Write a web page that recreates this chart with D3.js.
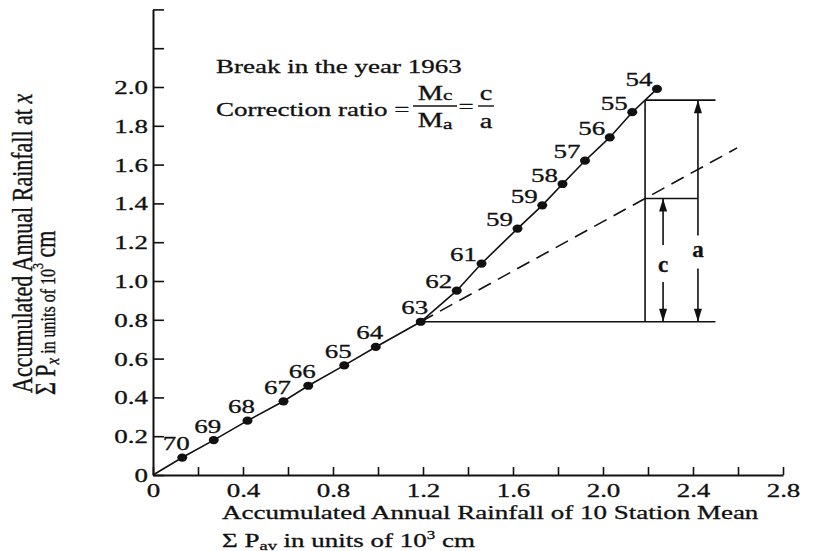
<!DOCTYPE html>
<html><head><meta charset="utf-8">
<script src="https://cdn.jsdelivr.net/npm/d3@7"></script>
<style>
html,body{margin:0;padding:0;background:#fff;}
svg{display:block;}
text{font-family:"Liberation Serif","Times New Roman",serif;fill:#111;stroke:#111;stroke-width:0.3px;}
</style></head><body>
<svg id="chart" width="813" height="551"></svg>
<script>
// ---- data ----
const years  = ["70","69","68","67","66","65","64","63","62","61","59","59","58","57","56","55","54"];
const sumPav = [0.13,0.27,0.42,0.58,0.69,0.85,0.99,1.19,1.35,1.46,1.62,1.73,1.82,1.92,2.03,2.13,2.24];
const sumPx  = [0.09,0.18,0.28,0.38,0.46,0.565,0.66,0.79,0.95,1.09,1.27,1.39,1.50,1.62,1.74,1.87,1.99];
const breakYear = "63";
const xTickValues = [0,0.2,0.4,0.6,0.8,1.0,1.2,1.4,1.6,1.8,2.0,2.2,2.4,2.6,2.8];
const xTickLabels = ["0","","0.4","","0.8","","1.2","","1.6","","2.0","","2.4","","2.8"];
const yTickValues = [0,0.2,0.4,0.6,0.8,1.0,1.2,1.4,1.6,1.8,2.0,2.2,2.4];
const yTickLabels = ["0","0.2","0.4","0.6","0.8","1.0","1.2","1.4","1.6","1.8","2.0","",""];
// annotation geometry (data units)
const dashedEnd = [2.596, 1.686];
const breakBarX = 2.187;
const guideEndX = 2.5;
const arrowCX = 2.267, arrowAX = 2.422;
const gapC = [0.995, 1.185], gapA = [1.065, 1.234];
const labelC = 1.046, labelA = 1.124;

// ---- drawing ----
const SX = 1.42;
const svg = d3.select("#chart");
const x = d3.scaleLinear().domain([0, 2.8]).range([153, 783]);
const y = d3.scaleLinear().domain([0, 2.4]).range([475, 9.4]);
const ink = "#111";

// y axis
const gy = svg.append("g").attr("transform", "translate(153,0)")
  .call(d3.axisLeft(y).tickValues(yTickValues).tickFormat((d, i) => yTickLabels[i])
    .tickSizeInner(-11).tickSizeOuter(0));
gy.attr("font-family", null).attr("font-size", null);
gy.select(".domain").attr("stroke", ink).attr("stroke-width", 2);
gy.selectAll(".tick line").attr("stroke", ink).attr("stroke-width", 1.6);
gy.selectAll(".tick text").attr("x", null).attr("dy", null)
  .attr("transform", `translate(-5,6.5) scale(${SX},1)`).style("font-size", "19px");

// x axis
const gx = svg.append("g").attr("transform", "translate(0,475)")
  .call(d3.axisBottom(x).tickValues(xTickValues).tickFormat((d, i) => xTickLabels[i])
    .tickSizeInner(-8).tickSizeOuter(0));
gx.attr("font-family", null).attr("font-size", null);
gx.select(".domain").attr("stroke", ink).attr("stroke-width", 2);
gx.selectAll(".tick line").attr("stroke", ink).attr("stroke-width", 1.6);
gx.selectAll(".tick text").attr("y", null).attr("dy", null)
  .attr("transform", `translate(0,22) scale(${SX},1)`).style("font-size", "19px");

// points
const pts = years.map((yr, i) => ({yr, px: sumPav[i], py: sumPx[i]}));
const bi = years.indexOf(breakYear);
const line = d3.line().x(d => x(d.px)).y(d => y(d.py));
svg.append("path").datum([{px: 0, py: 0}, ...pts]).attr("d", line)
  .attr("fill", "none").attr("stroke", ink).attr("stroke-width", 1.6);

// dashed extension of the pre-break trend
const p0 = pts[bi];
svg.append("path").datum([p0, {px: dashedEnd[0], py: dashedEnd[1]}]).attr("d", line)
  .attr("fill", "none").attr("stroke", ink).attr("stroke-width", 1.6).attr("stroke-dasharray", "14,8");

svg.selectAll("ellipse.pt").data(pts).join("ellipse").attr("class", "pt")
  .attr("cx", d => x(d.px)).attr("cy", d => y(d.py)).attr("rx", 5).attr("ry", 4.1).attr("fill", ink);

svg.selectAll("g.lbl").data(pts).join("g").attr("class", "lbl")
  .attr("transform", (d, i) => i <= bi
      ? `translate(${x(d.px) - 6},${y(d.py) - 7.5}) scale(${SX},1)`
      : `translate(${x(d.px) - 18},${y(d.py) - 2.5}) scale(${SX},1)`)
  .append("text").attr("text-anchor", "middle").style("font-size", "19px").text(d => d.yr);

// construction lines
const interp = (a, b, xv) => a.py + (b.py - a.py) * (xv - a.px) / (b.px - a.px);
let k = pts.findIndex(p => p.px > breakBarX);
const topY = interp(pts[k - 1], pts[k], breakBarX);
const midY = interp(p0, {px: dashedEnd[0], py: dashedEnd[1]}, breakBarX);
const seg = (x1, y1, x2, y2) => svg.append("line")
  .attr("x1", x(x1)).attr("y1", y(y1)).attr("x2", x(x2)).attr("y2", y(y2))
  .attr("stroke", ink).attr("stroke-width", 1.6);
seg(p0.px, p0.py, guideEndX, p0.py);
seg(breakBarX, p0.py, breakBarX, topY);
seg(breakBarX, topY, guideEndX, topY);
seg(breakBarX, midY, arrowAX, midY);

function arrow(xv, yFrom, yTo) {
  seg(xv, yFrom, xv, yTo);
  const X = x(xv), Y = y(yTo), dir = Math.sign(y(yTo) - y(yFrom));
  svg.append("path").attr("d", `M${X},${Y} L${X - 4},${Y - dir * 13} L${X + 4},${Y - dir * 13} Z`).attr("fill", ink);
}
arrow(arrowCX, gapC[1], midY);
arrow(arrowCX, gapC[0], p0.py);
arrow(arrowAX, gapA[1], topY);
arrow(arrowAX, gapA[0], p0.py);
svg.append("text").attr("x", x(arrowCX)).attr("y", y(labelC)).attr("text-anchor", "middle")
  .style("font-size", "23px").style("font-weight", "bold").text("c");
svg.append("text").attr("x", x(arrowAX)).attr("y", y(labelA)).attr("text-anchor", "middle")
  .style("font-size", "23px").style("font-weight", "bold").text("a");

// text helpers
function stext(tx, ty, anchor, size) {
  return svg.append("g").attr("transform", `translate(${tx},${ty}) scale(${SX},1)`)
    .append("text").attr("text-anchor", anchor).style("font-size", size + "px");
}
stext(216, 73, "start", 19).text("Break in the year 1963");
stext(216, 116, "start", 19).text("Correction ratio =");
// fraction Mc / Ma
let t = stext(435, 100, "middle", 20);
t.append("tspan").text("M"); t.append("tspan").style("font-size", "15px").text("c");
t = stext(435, 127, "middle", 20);
t.append("tspan").text("M"); t.append("tspan").style("font-size", "15px").attr("dy", 2).text("a");
svg.append("line").attr("x1", 413).attr("x2", 457).attr("y1", 106).attr("y2", 106).attr("stroke", ink).attr("stroke-width", 1.4);
stext(466, 113, "middle", 19).text("=");
stext(486, 100, "middle", 20).text("c");
stext(486, 128, "middle", 20).text("a");
svg.append("line").attr("x1", 478).attr("x2", 494).attr("y1", 106).attr("y2", 106).attr("stroke", ink).attr("stroke-width", 1.4);

// x title
stext(222, 519, "start", 19).text("Accumulated Annual Rainfall of 10 Station Mean");
t = stext(222, 547, "start", 19);
t.append("tspan").text("\u03A3 P");
t.append("tspan").style("font-size", "13px").attr("dy", 3).text("av");
t.append("tspan").attr("dy", -3).text(" in units of 10");
t.append("tspan").style("font-size", "12px").attr("dy", -8).text("3");
t.append("tspan").attr("dy", 8).text(" cm");

// y title (rotated)
svg.append("g").attr("transform", "translate(32,393) rotate(-90) scale(1,1.3)")
  .append("text").style("font-size", "22px")
  .call(tt => { tt.append("tspan").text("Accumulated Annual Rainfall at ");
                tt.append("tspan").style("font-style", "italic").text("x"); });
const t2 = svg.append("g").attr("transform", "translate(55,395) rotate(-90) scale(1,1.3)")
  .append("text").style("font-size", "22px");
t2.append("tspan").text("\u03A3 P");
t2.append("tspan").style("font-size", "15px").style("font-style", "italic").attr("dy", 3).text("x");
t2.append("tspan").style("font-size", "16px").attr("dy", -3).text("  in units of 10");
t2.append("tspan").style("font-size", "12px").attr("dy", -9).text("3");
t2.append("tspan").attr("dy", 9).text(" cm");
</script>
</body></html>
